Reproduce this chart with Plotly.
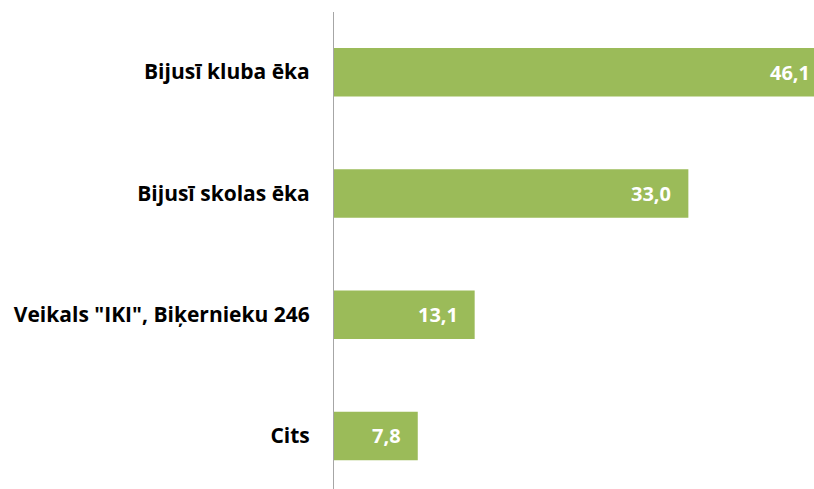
import plotly.graph_objects as go

categories = ["Bijusī kluba ēka", "Bijusī skolas ēka", 'Veikals "IKI", Biķernieku 246', "Cits"]
values = [46.1, 33.0, 13.1, 7.8]
labels = ["46,1", "33,0", "13,1", "7,8"]

XMAX = 44.7
GREEN = "#9BBB59"

fig = go.Figure()
fig.add_trace(go.Bar(
    y=categories, x=values, orientation="h",
    marker=dict(color=GREEN, line=dict(width=0)),
    hoverinfo="skip",
))

annotations = []
for c, v, t in zip(categories, values, labels):
    frac = v / XMAX
    clipped = frac > 1
    annotations.append(dict(
        x=min(frac, 1), xref="paper", y=c, yref="y",
        text=t, showarrow=False, xanchor="right", yanchor="middle",
        xshift=-2 if clipped else -15,
        font=dict(family="Open Sans", size=20, color="white", weight="bold"),
    ))

fig.update_layout(
    width=814, height=489,
    margin=dict(l=334, r=0, t=12, b=0, autoexpand=False),
    plot_bgcolor="white", paper_bgcolor="white",
    bargap=0.6,
    showlegend=False,
    annotations=annotations,
    xaxis=dict(range=[0, XMAX], showgrid=False, zeroline=False,
               showticklabels=False, showline=False, fixedrange=True),
    yaxis=dict(type="category", range=[3.438, -0.496], showgrid=False,
               zeroline=False, showline=True, linecolor="#A6A6A6", linewidth=1,
               ticks="", ticklabelstandoff=19, automargin=False, fixedrange=True,
               tickfont=dict(family="Open Sans", size=21, color="black", weight="bold")),
)

fig.write_html("out.html", config={"displayModeBar": False, "staticPlot": True},
               post_script="document.body.style.margin='0';document.body.style.overflow='hidden';")
